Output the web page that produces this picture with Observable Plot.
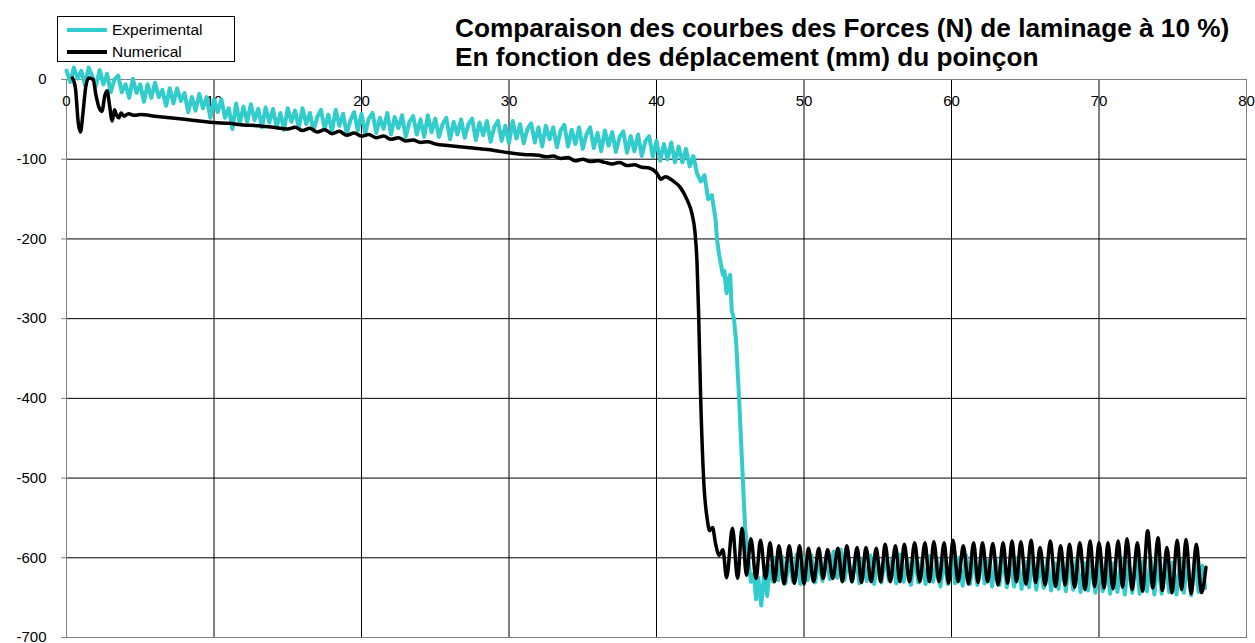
<!DOCTYPE html>
<html>
<head>
<meta charset="utf-8">
<script src="https://cdn.jsdelivr.net/npm/d3@7"></script>
<script src="https://cdn.jsdelivr.net/npm/@observablehq/plot@0.6"></script>
<style>
  html, body { margin: 0; padding: 0; background: #fff; }
  #wrap { position: relative; width: 1255px; height: 643px; font-family: "Liberation Sans", Arial, sans-serif; }
  #legend { position: absolute; left: 57px; top: 16px; width: 176px; height: 44px; border: 1px solid #000; background: #fff; z-index: 2; }
  .li { position: absolute; left: 9px; height: 20px; font-size: 15.5px; line-height: 20px; color: #000; }
  .sw { display: inline-block; width: 40px; height: 4px; vertical-align: middle; margin-right: 5px; position: relative; top: -1px; }
  #title { position: absolute; left: 455px; top: 14px; font-weight: bold; font-size: 26.2px; line-height: 29px; color: #000; z-index: 2; white-space: nowrap; }
  #chart { position: absolute; left: 0; top: 0; }
</style>
</head>
<body>
<div id="wrap">
  <div id="chart"></div>
  <div id="legend"></div>
  <div id="title"></div>
</div>
<script>
const titleLines = ["Comparaison des courbes des Forces (N) de laminage à 10 %)", "En fonction des déplacement (mm) du poinçon"];
const seriesNames = ["Experimental", "Numerical"];
const seriesColors = ["#33CCCC", "#000000"];
const xTicks = [0, 10, 20, 30, 40, 50, 60, 70, 80];
const yTicks = [-700, -600, -500, -400, -300, -200, -100, 0];

// Experimental: [displacement mm, force N]
const experimental = [
[0,11],[0.25,-3],[0.5,15],[0.75,1],[1,11],[1.25,-7],[1.5,15],[1.75,4],[2,-8],[2.25,12],[2.5,-6],[2.75,7],
[3,-16],[3.25,0],[3.5,5],[3.75,-16],[4,-6],[4.25,-23],[4.5,1],[4.75,-17],[5,-6],[5.25,-28],[5.5,-6],[5.75,-23],
[6,-4],[6.25,-22],[6.5,-13],[6.75,-33],[7,-11],[7.25,-30],[7.5,-11],[7.75,-27],[8,-17],[8.25,-41],[8.5,-22],[8.75,-39],
[9,-18],[9.25,-36],[9.5,-22],[9.75,-48],[10,-25],[10.25,-41],[10.5,-25],[10.75,-48],[11,-36],[11.25,-62],[11.5,-30],[11.75,-55],
[12,-34],[12.25,-53],[12.5,-31],[12.75,-51],[13,-37],[13.25,-60],[13.5,-35],[13.75,-54],[14,-37],[14.25,-60],[14.5,-42],[14.75,-63],
[15,-36],[15.25,-53],[15.5,-39],[15.75,-61],[16,-36],[16.25,-56],[16.5,-42],[16.75,-64],[17,-47],[17.25,-38],[17.5,-62],[17.75,-44],
[18,-65],[18.25,-38],[18.5,-58],[18.75,-43],[19,-68],[19.25,-51],[19.5,-41],[19.75,-64],[20,-43],[20.25,-68],[20.5,-49],[20.75,-42],
[21,-67],[21.25,-48],[21.5,-62],[21.75,-42],[22,-69],[22.25,-47],[22.5,-61],[22.75,-45],[23,-72],[23.25,-53],[23.5,-46],[23.75,-69],
[24,-50],[24.25,-72],[24.5,-45],[24.75,-66],[25,-49],[25.25,-72],[25.5,-56],[25.75,-48],[26,-75],[26.25,-53],[26.5,-69],[26.75,-50],
[27,-73],[27.25,-56],[27.5,-49],[27.75,-76],[28,-54],[28.25,-70],[28.5,-52],[28.75,-78],[29,-60],[29.25,-52],[29.5,-77],[29.75,-58],
[30,-80],[30.25,-52],[30.5,-74],[30.75,-56],[31,-80],[31.25,-62],[31.5,-55],[31.75,-79],[32,-60],[32.25,-84],[32.5,-58],[32.75,-75],
[33,-60],[33.25,-85],[33.5,-64],[33.75,-57],[34,-84],[34.25,-63],[34.5,-81],[34.75,-60],[35,-87],[35.25,-69],[35.5,-60],[35.75,-86],
[36,-67],[36.25,-90],[36.5,-64],[36.75,-83],[37,-66],[37.25,-91],[37.5,-72],[37.75,-65],[38,-92],[38.25,-71],[38.5,-90],[38.75,-69],
[39,-96],[39.25,-77],[39.5,-71],[39.75,-97],[40,-77],[40.25,-102],[40.5,-81],[40.75,-100],[41,-79],[41.25,-104],[41.5,-84],[41.75,-104],
[42,-87],[42.25,-109],[42.5,-96],[42.75,-118],[43,-128],[43.25,-120],[43.5,-150],[43.75,-145],[44,-175],[44.1,-200],[44.25,-220],
[44.5,-245],[44.6,-240],[44.75,-268],[44.9,-250],[45,-245],[45.1,-290],[45.25,-300],[45.4,-330],[45.6,-400],[45.8,-480],[46,-560],
[46.2,-600],[46.4,-630],[46.6,-620],[46.75,-652],[46.9,-625],[47.1,-660],[47.3,-620],[47.5,-648],[47.7,-610],[47.9,-630],
[48,-600],[48.25,-628],[48.5,-598],[48.75,-632],[49,-602],[49.25,-630],[49.5,-596],[49.75,-633],[50,-600],[50.25,-628],[50.5,-597],[50.75,-631],
[51,-604],[51.25,-629],[51.5,-598],[51.75,-627],[52,-592],[52.25,-625],[52.5,-590],[52.75,-628],[53,-600],[53.25,-630],[53.5,-596],[53.75,-632],
[54,-601],[54.25,-629],[54.5,-597],[54.75,-633],[55,-603],[55.25,-631],[55.5,-598],[55.75,-628],[56,-600],[56.25,-632],[56.5,-596],[56.75,-630],
[57,-602],[57.25,-634],[57.5,-599],[57.75,-631],[58,-603],[58.25,-633],[58.5,-598],[58.75,-630],[59,-600],[59.25,-636],[59.5,-602],[59.75,-633],
[60,-598],[60.25,-632],[60.5,-600],[60.75,-635],[61,-597],[61.25,-633],[61.5,-601],[61.75,-634],[62,-598],[62.25,-632],[62.5,-603],[62.75,-636],
[63,-600],[63.25,-634],[63.5,-598],[63.75,-637],[64,-604],[64.25,-636],[64.5,-600],[64.75,-639],[65,-605],[65.25,-637],[65.5,-601],[65.75,-640],
[66,-606],[66.25,-638],[66.5,-602],[66.75,-641],[67,-607],[67.25,-639],[67.5,-603],[67.75,-642],[68,-605],[68.25,-640],[68.5,-600],[68.75,-643],
[69,-607],[69.25,-641],[69.5,-604],[69.75,-644],[70,-606],[70.25,-642],[70.5,-602],[70.75,-645],[71,-607],[71.25,-643],[71.5,-600],[71.75,-646],
[72,-605],[72.25,-644],[72.5,-598],[72.75,-645],[73,-604],[73.25,-642],[73.5,-600],[73.75,-646],[74,-603],[74.25,-645],[74.5,-601],[74.75,-643],
[75,-606],[75.25,-646],[75.5,-602],[75.75,-644],[76,-605],[76.25,-647],[76.5,-600],[76.75,-643],[77,-610],[77.2,-638]
];

// Numerical: [displacement mm, force N]
const numerical = [
[0.4,2],[0.6,-10],[0.8,-55],[0.95,-66],[1.1,-45],[1.3,-10],[1.5,2],[1.8,0],[2.0,-20],[2.2,-35],[2.4,-40],[2.6,-20],[2.75,-14],
[2.9,-30],[3.1,-52],[3.25,-38],[3.4,-45],[3.55,-48],[3.7,-42],[3.9,-46],[4.2,-43],[4.6,-45],[5,-44],[6,-46],[7,-48],[8,-50],[9,-52],
[10,-54],[11,-55],[12,-57],[13,-58],[14,-60],[15,-62],[15.5,-60],[16,-64],[16.5,-61],[17,-66],[17.5,-63],[18,-68],[18.5,-65],[19,-70],
[19.5,-67],[20,-71],[20.5,-69],[21,-73],[21.5,-71],[22,-75],[22.5,-73],[23,-77],[23.5,-76],[24,-79],[24.5,-78],[25,-81],[26,-83],[27,-85],
[28,-87],[29,-89],[30,-92],[31,-94],[32,-95],[32.5,-97],[33,-96],[33.5,-99],[34,-98],[34.5,-102],[35,-100],[35.5,-103],[36,-102],
[36.5,-104],[37,-106],[37.5,-104],[38,-108],[38.5,-107],[39,-110],[39.5,-111],[40,-117],[40.3,-125],[40.6,-122],[41.1,-127],[41.6,-135],
[42.1,-152],[42.4,-168],[42.6,-190],[42.75,-231],[42.85,-290],[43.0,-403],[43.2,-503],[43.45,-553],[43.6,-566],[43.8,-562],[44.0,-582],
[44.25,-597],[44.5,-590],[44.75,-625],
[45.15,-563],[45.5,-626],[45.8,-563],[46.1,-622],[46.4,-576],[46.75,-626],[47.05,-578],[47.4,-626],[47.7,-581],[48.0,-630],[48.3,-585],
[48.65,-633],[49.0,-585],[49.35,-632],[49.7,-585],[50.0,-633],[50.3,-588],[50.65,-630],[51.0,-588],[51.3,-626],[51.6,-590],[51.95,-626],
[52.3,-588],[52.6,-630],[52.9,-585],[53.25,-630],[53.6,-587],[53.9,-631],[54.2,-587],[54.55,-630],[54.9,-588],[55.2,-630],[55.5,-583],
[55.85,-630],[56.2,-585],[56.5,-630],[56.8,-583],[57.15,-630],[57.5,-581],[57.85,-630],[58.2,-581],[58.5,-630],[58.8,-580],[59.15,-630],
[59.5,-581],[59.8,-632],[60.1,-578],[60.45,-630],[60.8,-585],[61.15,-633],[61.5,-581],[61.8,-631],[62.1,-581],[62.45,-630],[62.8,-582],
[63.15,-634],[63.5,-581],[63.8,-632],[64.1,-579],[64.4,-630],[64.7,-580],[65.05,-633],[65.4,-578],[65.7,-631],[66.0,-587],[66.35,-634],
[66.7,-579],[67.05,-636],[67.4,-585],[67.7,-634],[68.0,-583],[68.35,-637],[68.7,-581],[69.05,-640],[69.4,-579],[69.7,-636],[70.0,-581],
[70.35,-638],[70.6,-581],[70.95,-639],[71.3,-579],[71.6,-637],[71.9,-576],[72.25,-640],[72.6,-581],[72.95,-642],[73.3,-566],[73.65,-638],
[74.0,-575],[74.3,-641],[74.6,-587],[74.95,-644],[75.3,-578],[75.6,-640],[75.9,-577],[76.25,-645],[76.6,-583],[76.95,-644],[77.25,-612]
];

const expData = experimental.map(([x, y]) => ({x, y}));
const numData = numerical.map(([x, y]) => ({x, y}));

const chart = Plot.plot({
  width: 1255,
  height: 643,
  marginLeft: 66,
  marginRight: 9,
  marginTop: 79,
  marginBottom: 6,
  style: {fontFamily: "'Liberation Sans', Arial, sans-serif", fontSize: "15px", background: "white", color: "#000", overflow: "visible"},
  x: {type: "linear", domain: [0, 80], axis: null},
  y: {type: "linear", domain: [-700, 0]},
  marks: [
    Plot.gridX(xTicks.filter(d => d > 0 && d < 80), {stroke: "#000", strokeOpacity: 1, strokeWidth: 1}),
    Plot.gridY(yTicks.filter(d => d > -700 && d < 0), {stroke: "#000", strokeOpacity: 1, strokeWidth: 1}),
    Plot.frame({stroke: "#808080", strokeWidth: 1}),
    Plot.axisY(yTicks, {tickSize: 5, tickPadding: 15, stroke: "#808080", fill: "#000", label: null, fontSize: 15, tickFormat: d => String(d)}),
    Plot.text(xTicks, {x: d => d, y: () => 0, dy: 22, text: d => String(d), fill: "#000", fontSize: 15, textAnchor: "middle"}),
    Plot.line(expData, {x: "x", y: "y", stroke: seriesColors[0], strokeWidth: 4, strokeLinejoin: "round"}),
    Plot.line(numData, {x: "x", y: "y", stroke: seriesColors[1], strokeWidth: 3.5, curve: "monotone-x", strokeLinejoin: "round"})
  ]
});
document.getElementById("chart").appendChild(chart);

const legend = document.getElementById("legend");
seriesNames.forEach((name, i) => {
  const row = document.createElement("div");
  row.className = "li";
  row.style.top = (i === 0 ? 3 : 25) + "px";
  const sw = document.createElement("span");
  sw.className = "sw";
  sw.style.background = seriesColors[i];
  row.appendChild(sw);
  row.appendChild(document.createTextNode(name));
  legend.appendChild(row);
});
document.getElementById("title").innerHTML = titleLines.join("<br>");
</script>
</body>
</html>
